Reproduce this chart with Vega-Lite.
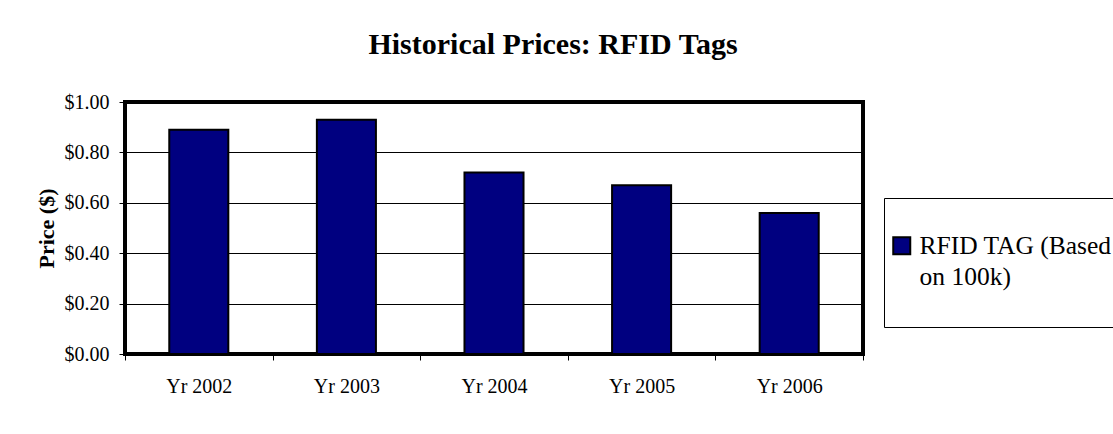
{
  "$schema": "https://vega.github.io/schema/vega-lite/v6.json",
  "autosize": "none",
  "width": 738,
  "height": 252,
  "padding": {"left": 125, "top": 102, "right": 250, "bottom": 80},
  "background": "white",
  "title": {
    "text": "Historical Prices: RFID Tags",
    "font": "Liberation Serif",
    "fontSize": 30,
    "fontWeight": "bold",
    "color": "black",
    "anchor": "middle",
    "frame": "group",
    "dx": 59,
    "offset": 32
  },
  "data": {
    "values": [
      {"year": "Yr 2002", "price": 0.89, "series": "RFID TAG (Based on 100k)"},
      {"year": "Yr 2003", "price": 0.93, "series": "RFID TAG (Based on 100k)"},
      {"year": "Yr 2004", "price": 0.72, "series": "RFID TAG (Based on 100k)"},
      {"year": "Yr 2005", "price": 0.67, "series": "RFID TAG (Based on 100k)"},
      {"year": "Yr 2006", "price": 0.56, "series": "RFID TAG (Based on 100k)"}
    ]
  },
  "mark": {"type": "bar", "width": {"band": 0.4}, "stroke": "black", "strokeWidth": 2},
  "encoding": {
    "x": {
      "field": "year",
      "type": "nominal",
      "sort": null,
      "scale": {"paddingInner": 0, "paddingOuter": 0},
      "axis": {
        "title": null,
        "labelAngle": 0,
        "tickBand": "extent",
        "domain": false,
        "ticks": true,
        "tickColor": "black",
        "tickSize": 6,
        "labelFont": "Liberation Serif",
        "labelFontSize": 20,
        "labelColor": "black",
        "labelPadding": 16
      }
    },
    "y": {
      "field": "price",
      "type": "quantitative",
      "scale": {"domain": [0, 1], "nice": false},
      "axis": {
        "title": "Price ($)",
        "titleFont": "Liberation Serif",
        "titleFontSize": 22,
        "titleFontWeight": "bold",
        "titleColor": "black",
        "titlePadding": 6,
        "values": [0, 0.2, 0.4, 0.6, 0.8, 1.0],
        "format": "$.2f",
        "domain": false,
        "tickColor": "black",
        "tickSize": 6,
        "labelFont": "Liberation Serif",
        "labelFontSize": 20,
        "labelColor": "black",
        "labelPadding": 10,
        "grid": true,
        "gridColor": "black",
        "gridWidth": 1
      }
    },
    "color": {
      "field": "series",
      "type": "nominal",
      "scale": {"range": ["#000080"]},
      "legend": {
        "title": " ",
        "titleFontSize": 20,
        "titlePadding": 10,
        "orient": "none",
        "legendX": 759,
        "legendY": 96,
        "padding": 5,
        "fillColor": "white",
        "strokeColor": "black",
        "symbolType": "square",
        "symbolSize": 289,
        "symbolStrokeColor": "black",
        "symbolStrokeWidth": 2,
        "symbolOpacity": 1,
        "symbolOffset": 0,
        "labelOffset": 5,
        "labelFont": "Liberation Serif",
        "labelFontSize": 25.5,
        "labelColor": "black",
        "labelLimit": 400,
        "labelBaseline": "middle",
        "labelExpr": "['RFID TAG (Based', 'on 100k)', '']",
        "encode": {
          "labels": {
            "update": {
              "lineHeight": {"value": 31},
              "font": {"value": "Liberation Serif"},
              "fontSize": {"value": 25.5}
            }
          }
        }
      }
    }
  },
  "config": {
    "view": {"stroke": "black", "strokeWidth": 4},
    "axis": {"gridOpacity": 1}
  }
}
